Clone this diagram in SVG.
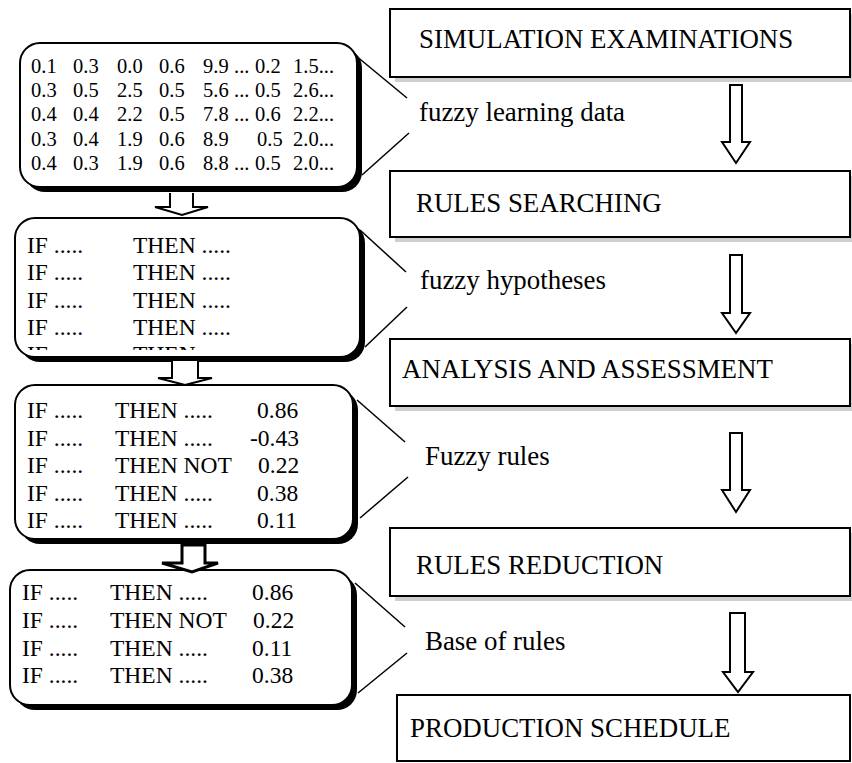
<svg xmlns="http://www.w3.org/2000/svg" width="852" height="763" viewBox="0 0 852 763">
<style>
  text { font-family: "Liberation Serif", "Times New Roman", serif; fill: #000; }
  .big { font-size: 26.9px; }
  .data { font-size: 20.5px; }
  .rule { font-size: 23.5px; }
  .box { fill: #fff; stroke: #000; stroke-width: 2; }
  .shadow { fill: #cfcfcf; }
  .bshadow { fill: #000; }
  .rbox { fill: #fff; stroke: #000; stroke-width: 2; }
  .arrow { fill: #fff; stroke: #000; stroke-width: 2; stroke-linejoin: miter; }
  .call { stroke: #000; stroke-width: 1.5; fill: none; }
</style>
<defs>
  <clipPath id="clipB"><rect x="15" y="218" width="345" height="132"/></clipPath>
</defs>
<rect width="852" height="763" fill="#fff"/>

<!-- Right process boxes -->
<g id="simulation">
  <rect class="shadow" x="395" y="14" width="457" height="68"/>
  <rect class="box" x="390" y="9" width="460" height="68"/>
  <text class="big" x="419" y="48">SIMULATION EXAMINATIONS</text>
</g>
<g id="rules-searching">
  <rect class="shadow" x="395" y="176" width="457" height="66"/>
  <rect class="box" x="390" y="171" width="460" height="66"/>
  <text class="big" x="416" y="212">RULES SEARCHING</text>
</g>
<g id="analysis">
  <rect class="shadow" x="395" y="344" width="457" height="67"/>
  <rect class="box" x="390" y="339" width="460" height="67"/>
  <text class="big" x="402" y="378">ANALYSIS AND ASSESSMENT</text>
</g>
<g id="rules-reduction">
  <rect class="shadow" x="395" y="533" width="457" height="68"/>
  <rect class="box" x="390" y="528" width="460" height="68"/>
  <text class="big" x="416" y="574">RULES REDUCTION</text>
</g>
<g id="production">
  <rect class="box" x="397" y="695" width="453" height="66"/>
  <text class="big" x="410" y="737">PRODUCTION SCHEDULE</text>
</g>

<!-- Left callout boxes -->
<g id="learning-data">
  <rect class="bshadow" x="25" y="48" width="337" height="144" rx="20"/>
  <rect class="rbox" x="20" y="43" width="337" height="144" rx="20"/>
  <g class="data">
    <text y="73"><tspan x="31">0.1</tspan><tspan x="73">0.3</tspan><tspan x="117">0.0</tspan><tspan x="159">0.6</tspan><tspan x="203">9.9</tspan><tspan x="234">...</tspan><tspan x="255">0.2</tspan><tspan x="293">1.5...</tspan></text>
    <text y="97"><tspan x="31">0.3</tspan><tspan x="73">0.5</tspan><tspan x="117">2.5</tspan><tspan x="159">0.5</tspan><tspan x="203">5.6</tspan><tspan x="234">...</tspan><tspan x="255">0.5</tspan><tspan x="293">2.6...</tspan></text>
    <text y="121"><tspan x="31">0.4</tspan><tspan x="73">0.4</tspan><tspan x="117">2.2</tspan><tspan x="159">0.5</tspan><tspan x="203">7.8</tspan><tspan x="234">...</tspan><tspan x="255">0.6</tspan><tspan x="293">2.2...</tspan></text>
    <text y="146"><tspan x="31">0.3</tspan><tspan x="73">0.4</tspan><tspan x="117">1.9</tspan><tspan x="159">0.6</tspan><tspan x="203">8.9</tspan><tspan x="257">0.5</tspan><tspan x="293">2.0...</tspan></text>
    <text y="170"><tspan x="31">0.4</tspan><tspan x="73">0.3</tspan><tspan x="117">1.9</tspan><tspan x="159">0.6</tspan><tspan x="203">8.8</tspan><tspan x="234">...</tspan><tspan x="255">0.5</tspan><tspan x="293">2.0...</tspan></text>
  </g>
</g>
<g id="hypotheses">
  <rect class="bshadow" x="20" y="223" width="345" height="139" rx="20"/>
  <rect class="rbox" x="15" y="218" width="345" height="139" rx="20"/>
  <g class="rule" clip-path="url(#clipB)">
    <text y="253"><tspan x="27">IF .....</tspan><tspan x="133">THEN .....</tspan></text>
    <text y="280"><tspan x="27">IF .....</tspan><tspan x="133">THEN .....</tspan></text>
    <text y="308"><tspan x="27">IF .....</tspan><tspan x="133">THEN .....</tspan></text>
    <text y="335"><tspan x="27">IF .....</tspan><tspan x="133">THEN .....</tspan></text>
    <text y="362"><tspan x="27">IF .....</tspan><tspan x="133">THEN .....</tspan></text>
  </g>
</g>
<g id="fuzzy-rules">
  <rect class="bshadow" x="20" y="390" width="338" height="154" rx="20"/>
  <rect class="rbox" x="15" y="385" width="338" height="154" rx="20"/>
  <g class="rule">
    <text y="418"><tspan x="27">IF .....</tspan><tspan x="115">THEN .....</tspan><tspan x="257">0.86</tspan></text>
    <text y="446"><tspan x="27">IF .....</tspan><tspan x="115">THEN .....</tspan><tspan x="250">-0.43</tspan></text>
    <text y="473"><tspan x="27">IF .....</tspan><tspan x="115">THEN NOT</tspan><tspan x="258">0.22</tspan></text>
    <text y="501"><tspan x="27">IF .....</tspan><tspan x="115">THEN .....</tspan><tspan x="257">0.38</tspan></text>
    <text y="528"><tspan x="27">IF .....</tspan><tspan x="115">THEN .....</tspan><tspan x="257">0.11</tspan></text>
  </g>
</g>
<g id="rule-base">
  <rect class="bshadow" x="15" y="575" width="342" height="135" rx="20"/>
  <rect class="rbox" x="10" y="570" width="342" height="135" rx="20"/>
  <g class="rule">
    <text y="600"><tspan x="22">IF .....</tspan><tspan x="110">THEN .....</tspan><tspan x="252">0.86</tspan></text>
    <text y="628"><tspan x="22">IF .....</tspan><tspan x="110">THEN NOT</tspan><tspan x="253">0.22</tspan></text>
    <text y="656"><tspan x="22">IF .....</tspan><tspan x="110">THEN .....</tspan><tspan x="252">0.11</tspan></text>
    <text y="683"><tspan x="22">IF .....</tspan><tspan x="110">THEN .....</tspan><tspan x="252">0.38</tspan></text>
  </g>
</g>

<!-- Labels -->
<g id="labels" class="big">
  <text x="419" y="121">fuzzy learning data</text>
  <text x="420" y="289">fuzzy hypotheses</text>
  <text x="425" y="465">Fuzzy rules</text>
  <text x="425" y="650">Base of rules</text>
</g>

<!-- Connectors -->
<g id="connectors">
  <line class="call" x1="355" y1="55" x2="407" y2="98"/>
  <line class="call" x1="362" y1="175" x2="409" y2="133"/>
  <line class="call" x1="360" y1="230" x2="406" y2="272"/>
  <line class="call" x1="365" y1="347" x2="407" y2="307"/>
  <line class="call" x1="357" y1="400" x2="405" y2="442"/>
  <line class="call" x1="360" y1="518" x2="408" y2="477"/>
  <line class="call" x1="355" y1="583" x2="405" y2="627"/>
  <line class="call" x1="358" y1="693" x2="407" y2="653"/>
  <path class="arrow" d="M730,85 H742 V142 H750 L736,163 L722,142 H730 Z"/>
  <path class="arrow" d="M730,255 H742 V313 H750 L736,333 L722,313 H730 Z"/>
  <path class="arrow" d="M730,433 H742 V490 H750 L736,512 L722,490 H730 Z"/>
  <path class="arrow" d="M730,613 H745 V672 H753 L738,692 L723,672 H730 Z"/>
  <path class="arrow" d="M170,193 V207 H155 L182,215 L208,207 H193 V193"/>
  <path class="arrow" d="M172,360 H198 V378 H212 L185,385 L158,378 H172 Z"/>
  <path class="arrow" d="M182,545 H205 V563 H218 L192,572 L162,563 H182 Z" style="stroke-width:3"/>
</g>
</svg>
